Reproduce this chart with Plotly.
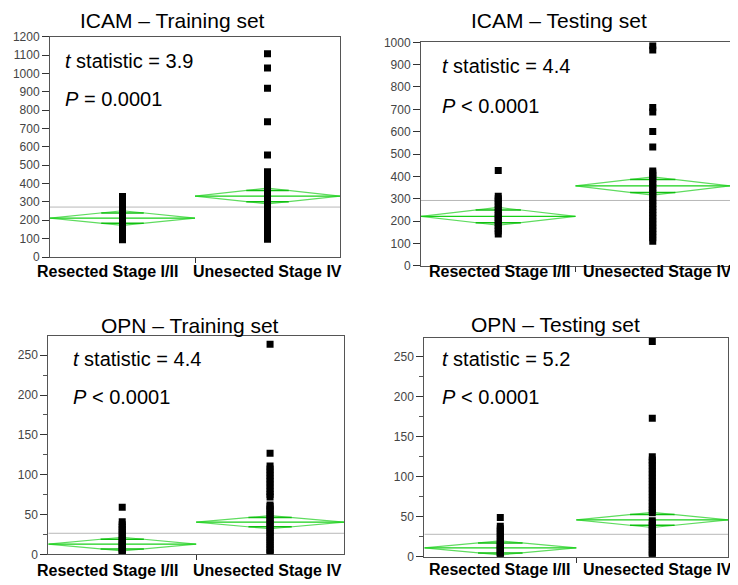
import plotly.graph_objects as go

# ---------------- data ----------------
categories = ["Resected Stage I/II", "Unesected Stage IV"]

icam_train_g1 = [94, 104, 115, 124, 133, 141, 150, 158, 166, 173, 180, 187, 194, 200, 207, 213,
                 220, 227, 234, 242, 250, 259, 268, 278, 290, 303, 316, 330]
icam_train_g2 = [97, 112, 128, 142, 157, 170, 183, 195, 208, 220, 232, 245, 258, 270, 283, 296,
                 310, 323, 337, 352, 367, 383, 400, 418, 436, 452, 465, 555, 737, 919, 1029, 1107]
icam_train_mean = [212, 332]
icam_train_ci = [40, 43]
icam_train_grand = 272

icam_test_g1 = [142, 155, 168, 180, 192, 203, 215, 226, 238, 250, 263, 276, 290, 300, 311, 426]
icam_test_g2 = [110, 125, 140, 154, 168, 182, 196, 210, 224, 238, 252, 266, 280, 294, 308, 322,
                336, 350, 364, 378, 392, 405, 415, 424, 531, 601, 688, 708, 966, 984]
icam_test_mean = [221, 357]
icam_test_ci = [40, 41]
icam_test_grand = 292

opn_train_g1 = [1, 3, 5, 7, 9, 11, 13, 15, 17, 19, 22, 25, 28, 31, 34, 37, 41, 59]
opn_train_g2 = [0.5, 3, 6, 9, 12, 15, 18, 21, 24, 27, 30, 33, 36, 39, 42, 45, 48, 51, 54, 57, 60,
                62, 72, 75, 79, 83, 87, 91, 95, 99, 103, 107, 111, 127, 264]
opn_train_mean = [12.8, 40.3]
opn_train_ci = [8.6, 8.2]
opn_train_grand = 26.4

opn_test_g1 = [1, 3, 5, 7, 9, 11, 13, 15, 17, 20, 23, 26, 29, 32, 35, 38, 49]
opn_test_g2 = [0.5, 3, 6, 9, 12, 15, 18, 21, 24, 27, 30, 33, 36, 39, 42, 45, 55, 58, 62, 66, 70,
               74, 78, 82, 86, 90, 94, 98, 102, 106, 110, 114, 118, 121, 125, 173, 269]
opn_test_mean = [11, 46]
opn_test_ci = [8.8, 9.5]
opn_test_grand = 28

titles = ["ICAM \u2013 Training set", "ICAM \u2013 Testing set",
          "OPN \u2013 Training set", "OPN \u2013 Testing set"]
t_stats = ["3.9", "4.4", "4.4", "5.2"]
p_texts = ["= 0.0001", "< 0.0001", "< 0.0001", "< 0.0001"]

# ---------------- layout geometry (pixels of the target picture) ----------------
W, H = 738, 585
OFF = 8  # the page body has an 8px margin around the plot div
FONT = "Liberation Sans, Arial, sans-serif"


def pxx(x):
    return (x - OFF) / W


def pxy(y):
    return 1 - (y - OFF) / H


panels = [
    dict(g1=icam_train_g1, g2=icam_train_g2, mean=icam_train_mean, ci=icam_train_ci,
         grand=icam_train_grand, xd=(50, 340), yd=(36.7, 257), yr=[0, 1200], dtick=100, minor=False,
         tx=63, ty=61, py_=99, titx=172, tity=20, labx=(108, 267.5), laby=271),
    dict(g1=icam_test_g1, g2=icam_test_g2, mean=icam_test_mean, ci=icam_test_ci,
         grand=icam_test_grand, xd=(421, 730), yd=(42.3, 265.7), yr=[0, 1000], dtick=100, minor=False,
         tx=440, ty=66, py_=106, titx=559, tity=20, labx=(499.5, 657), laby=272),
    dict(g1=opn_train_g1, g2=opn_train_g2, mean=opn_train_mean, ci=opn_train_ci,
         grand=opn_train_grand, xd=(48.3, 344), yd=(335.7, 554.3), yr=[0, 274.6], dtick=50, minor=True,
         tx=71, ty=359, py_=397, titx=190, tity=325, labx=(108, 267.5), laby=570),
    dict(g1=opn_test_g1, g2=opn_test_g2, mean=opn_test_mean, ci=opn_test_ci,
         grand=opn_test_grand, xd=(424.3, 728.3), yd=(337.7, 556.7), yr=[0, 273.75], dtick=50, minor=True,
         tx=440, ty=359, py_=397, titx=555, tity=324, labx=(499.5, 657), laby=569.5),
]

fig = go.Figure()
annotations = []
layout_axes = {}

for i, p in enumerate(panels):
    n = "" if i == 0 else str(i + 1)
    xa, ya = "x" + n, "y" + n
    # grand mean line
    fig.add_trace(go.Scatter(x=[0, 2], y=[p["grand"], p["grand"]], mode="lines",
                             line=dict(color="#b8b8b8", width=1), xaxis=xa, yaxis=ya,
                             hoverinfo="skip", showlegend=False))
    for g in range(2):
        m, c = p["mean"][g], p["ci"][g]
        # diamond outline
        fig.add_trace(go.Scatter(x=[g, g + 0.5, g + 1, g + 0.5, g], y=[m, m + c, m, m - c, m],
                                 mode="lines", line=dict(color="#5fdc5f", width=1.2),
                                 xaxis=xa, yaxis=ya, hoverinfo="skip", showlegend=False))
        # mean line
        fig.add_trace(go.Scatter(x=[g, g + 1], y=[m, m], mode="lines",
                                 line=dict(color="#18d018", width=1.2),
                                 xaxis=xa, yaxis=ya, hoverinfo="skip", showlegend=False))
        # overlap marks
        k = 0.7071
        hw = (1 - k) * 0.5
        fig.add_trace(go.Scatter(x=[g + 0.5 - hw, g + 0.5 + hw, None, g + 0.5 - hw, g + 0.5 + hw],
                                 y=[m + k * c, m + k * c, None, m - k * c, m - k * c],
                                 mode="lines", line=dict(color="#10c010", width=1.5),
                                 xaxis=xa, yaxis=ya, hoverinfo="skip", showlegend=False))
    # data points
    xs = [0.5] * len(p["g1"]) + [1.5] * len(p["g2"])
    fig.add_trace(go.Scatter(x=xs, y=p["g1"] + p["g2"], mode="markers",
                             marker=dict(symbol="square", size=7, color="black", line=dict(width=0)),
                             xaxis=xa, yaxis=ya, showlegend=False))

    axis_common = dict(showline=True, linecolor="#555555", linewidth=1, mirror=True,
                       showgrid=False, zeroline=False, ticks="outside", tickcolor="#333333",
                       automargin=False)
    layout_axes["xaxis" + n] = dict(axis_common, domain=[pxx(p["xd"][0]), pxx(p["xd"][1])],
                                    range=[0, 2], tickvals=[1], ticktext=[""], ticklen=5,
                                    showticklabels=False, anchor=ya, fixedrange=True)
    yax = dict(axis_common, domain=[pxy(p["yd"][1]), pxy(p["yd"][0])], range=p["yr"],
               tick0=0, dtick=p["dtick"], ticklen=7, anchor=xa,
               tickfont=dict(family=FONT, size=12, color="#444444"))
    if p["minor"]:
        yax["minor"] = dict(ticks="outside", ticklen=4, dtick=p["dtick"] / 2, tickcolor="#555555",
                            showgrid=False)
    layout_axes["yaxis" + n] = yax

    # titles
    annotations.append(dict(text=titles[i], x=pxx(p["titx"]), y=pxy(p["tity"]), xref="paper",
                            yref="paper", xanchor="center", yanchor="middle", showarrow=False,
                            font=dict(family=FONT, size=21, color="black")))
    # statistics text
    annotations.append(dict(text="<i>t</i> statistic = " + t_stats[i], x=pxx(p["tx"]),
                            y=pxy(p["ty"]), xref="paper", yref="paper", xanchor="left",
                            yanchor="middle", showarrow=False,
                            font=dict(family=FONT, size=20, color="black")))
    annotations.append(dict(text="<i>P</i> " + p_texts[i], x=pxx(p["tx"]),
                            y=pxy(p["py_"]), xref="paper", yref="paper", xanchor="left",
                            yanchor="middle", showarrow=False,
                            font=dict(family=FONT, size=20, color="black")))
    # category labels
    for g in range(2):
        annotations.append(dict(text="<b>" + categories[g] + "</b>", x=pxx(p["labx"][g]),
                                y=pxy(p["laby"]), xref="paper", yref="paper", xanchor="center",
                                yanchor="middle", showarrow=False,
                                font=dict(family=FONT, size=16, color="black")))

fig.update_layout(width=W, height=H, margin=dict(l=0, r=0, t=0, b=0, pad=0, autoexpand=False),
                  paper_bgcolor="white", plot_bgcolor="white", showlegend=False,
                  annotations=annotations, **layout_axes)

fig.write_html("out.html")
